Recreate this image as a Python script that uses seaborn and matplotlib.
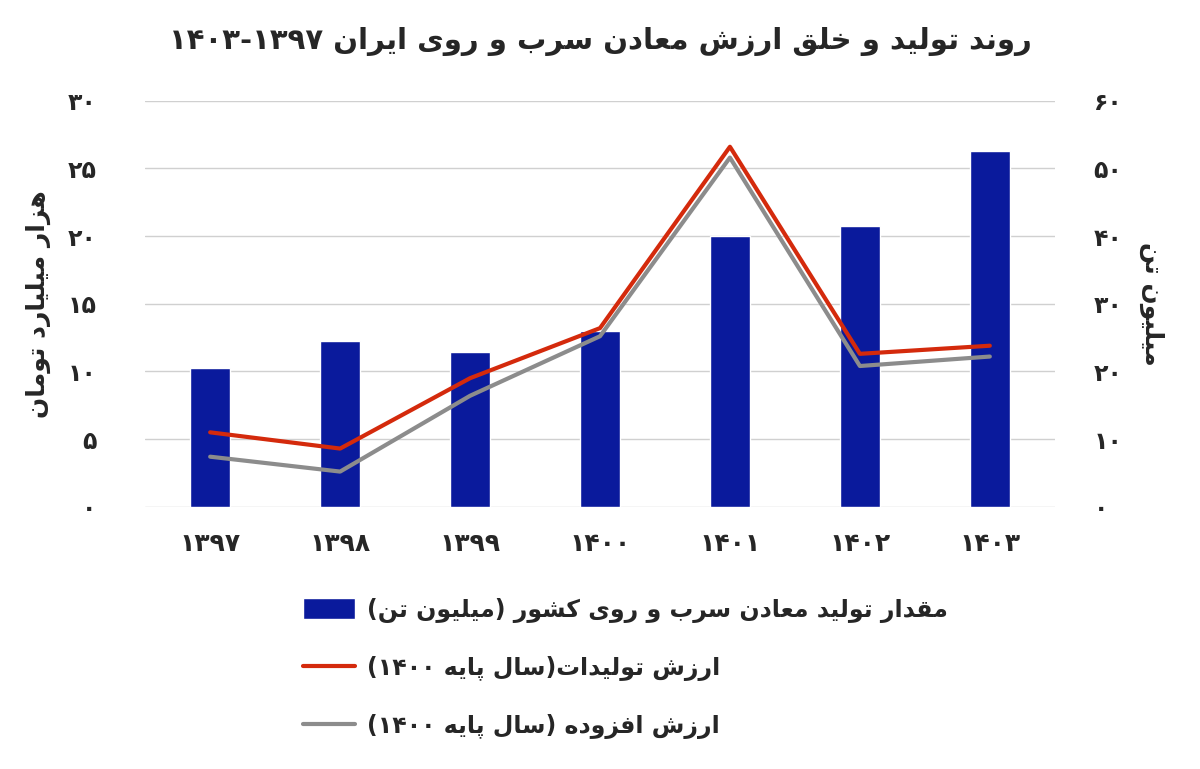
import unicodedata
import pandas as pd
import matplotlib
matplotlib.use("Agg")
import matplotlib.pyplot as plt
import seaborn as sns

# ---- data ----
years = ["۱۳۹۷", "۱۳۹۸", "۱۳۹۹", "۱۴۰۰", "۱۴۰۱", "۱۴۰۲", "۱۴۰۳"]
production_mt = [20.5, 24.5, 22.8, 26.0, 40.0, 41.5, 52.5]      # right axis
value_output = [5.5, 4.3, 9.5, 13.2, 26.6, 11.3, 11.9]          # left axis
value_added = [3.7, 2.6, 8.2, 12.6, 25.8, 10.4, 11.1]           # left axis
left_ticks = [0, 5, 10, 15, 20, 25, 30]
right_ticks = [0, 10, 20, 30, 40, 50, 60]

# ---- minimal Arabic/Persian shaping (no external libs) ----
names = {
    'ب': 'BEH', 'پ': 'PEH', 'ت': 'TEH', 'ث': 'THEH', 'ج': 'JEEM', 'چ': 'TCHEH',
    'ح': 'HAH', 'خ': 'KHAH', 'س': 'SEEN', 'ش': 'SHEEN', 'ص': 'SAD', 'ض': 'DAD',
    'ط': 'TAH', 'ظ': 'ZAH', 'ع': 'AIN', 'غ': 'GHAIN', 'ف': 'FEH', 'ق': 'QAF',
    'ک': 'KEHEH', 'گ': 'GAF', 'ل': 'LAM', 'م': 'MEEM', 'ن': 'NOON', 'ه': 'HEH',
    'ی': 'FARSI YEH', 'ا': 'ALEF', 'آ': 'ALEF WITH MADDA ABOVE', 'د': 'DAL',
    'ذ': 'THAL', 'ر': 'REH', 'ز': 'ZAIN', 'ژ': 'JEH', 'و': 'WAW',
}
right_only = set('اآدذرزژو')


def form(ch, kind):
    try:
        return unicodedata.lookup('ARABIC LETTER %s %s FORM' % (names[ch], kind))
    except KeyError:
        return ch


def shape(word):
    out = []
    chars = list(word)
    i = 0
    while i < len(chars):
        c = chars[i]
        if c not in names:
            out.append(c)
            i += 1
            continue
        prev = chars[i - 1] if i > 0 else None
        joins_prev = prev in names and prev not in right_only
        # lam-alef ligature
        if c == 'ل' and i + 1 < len(chars) and chars[i + 1] in 'اآ':
            kind = 'FINAL' if joins_prev else 'ISOLATED'
            lig = 'ARABIC LIGATURE LAM WITH ALEF%s %s FORM' % (
                ' WITH MADDA ABOVE' if chars[i + 1] == 'آ' else '', kind)
            out.append(unicodedata.lookup(lig))
            i += 2
            continue
        nxt = chars[i + 1] if i + 1 < len(chars) else None
        joins_next = c not in right_only and nxt in names
        if joins_prev and joins_next:
            kind = 'MEDIAL'
        elif joins_prev:
            kind = 'FINAL'
        elif joins_next:
            kind = 'INITIAL'
        else:
            kind = 'ISOLATED'
        out.append(form(c, kind))
        i += 1
    return ''.join(out)


def fa(text):
    s = shape(text)
    # split into LTR runs (digits/latin) and the rest, then reverse visually
    tokens, cur, cur_ltr = [], '', None
    for ch in s:
        ltr = ch.isdigit() or ch.isascii() and ch.isalnum()
        if cur and ltr != cur_ltr:
            tokens.append((cur, cur_ltr))
            cur = ''
        cur += ch
        cur_ltr = ltr
    if cur:
        tokens.append((cur, cur_ltr))
    mirror = {'(': ')', ')': '('}
    res = ''
    for t, ltr in reversed(tokens):
        res += t if ltr else ''.join(mirror.get(c, c) for c in reversed(t))
    return res


def fa_num(v):
    return str(v).translate(str.maketrans('0123456789', '۰۱۲۳۴۵۶۷۸۹'))


sns.set_style("white")
plt.rcParams['font.family'] = ['DejaVu Sans']
plt.rcParams['font.weight'] = 'bold'
plt.rcParams['axes.labelweight'] = 'bold'

df = pd.DataFrame({'year': years, 'prod': production_mt,
                   'out': value_output, 'added': value_added})

fig = plt.figure(figsize=(12, 7.69), dpi=100)
ax = fig.add_axes([0.121, 0.341, 0.758, 0.528])
ax2 = ax.twinx()

sns.barplot(x='year', y='prod', data=df, ax=ax2, color='#0a1a9c', width=0.31,
            saturation=1, label=fa('مقدار تولید معادن سرب و روی کشور (میلیون تن)'))
x = list(range(len(years)))
sns.lineplot(x=x, y=df['out'], ax=ax, color='#d42a0c', linewidth=3,
             label=fa('ارزش تولیدات(سال پایه ۱۴۰۰)'))
sns.lineplot(x=x, y=df['added'], ax=ax, color='#8c8c8c', linewidth=3,
             label=fa('ارزش افزوده (سال پایه ۱۴۰۰)'))

ax.set_zorder(ax2.get_zorder() + 1)
ax.patch.set_visible(False)

ax.set_ylim(0, 30)
ax2.set_ylim(0, 60)
ax.set_xlim(-0.5, 6.5)
ax.set_yticks(left_ticks)
ax2.set_yticks(right_ticks)
ax.set_yticklabels([fa_num(v) for v in left_ticks], fontsize=17)
ax2.set_yticklabels([fa_num(v) for v in right_ticks], fontsize=17)
ax.set_xticks(x)
ax.set_xticklabels(years, fontsize=18)
ax.tick_params(axis='x', pad=18, length=0)
ax.tick_params(axis='y', pad=35, length=0)
ax2.tick_params(axis='y', pad=28, length=0)
for a in (ax, ax2):
    for sp in a.spines.values():
        sp.set_visible(False)
ax2.set_xlabel('')
ax.set_xlabel('')
ax2.grid(axis='y', color='#d0d0d0', linewidth=1)
ax2.set_axisbelow(True)

ax.set_ylabel(fa('هزار میلیارد تومان'), fontsize=18, labelpad=12)
ax2.set_ylabel(fa('میلیون تن'), fontsize=18, rotation=270, labelpad=30)

fig.suptitle(fa('روند تولید و خلق ارزش معادن سرب و روی ایران ۱۳۹۷-۱۴۰۳'),
             fontsize=21, fontweight='bold', y=0.965)

h1, l1 = ax2.get_legend_handles_labels()
h2, l2 = ax.get_legend_handles_labels()
for a in (ax, ax2):
    if a.get_legend():
        a.get_legend().remove()
fig.legend(h1 + h2, l1 + l2, loc='upper left', bbox_to_anchor=(0.235, 0.25),
           frameon=False, fontsize=17, handlelength=2.2, labelspacing=1.4,
           handleheight=1.0, handletextpad=0.5)

fig.savefig('out.png', dpi=100)
